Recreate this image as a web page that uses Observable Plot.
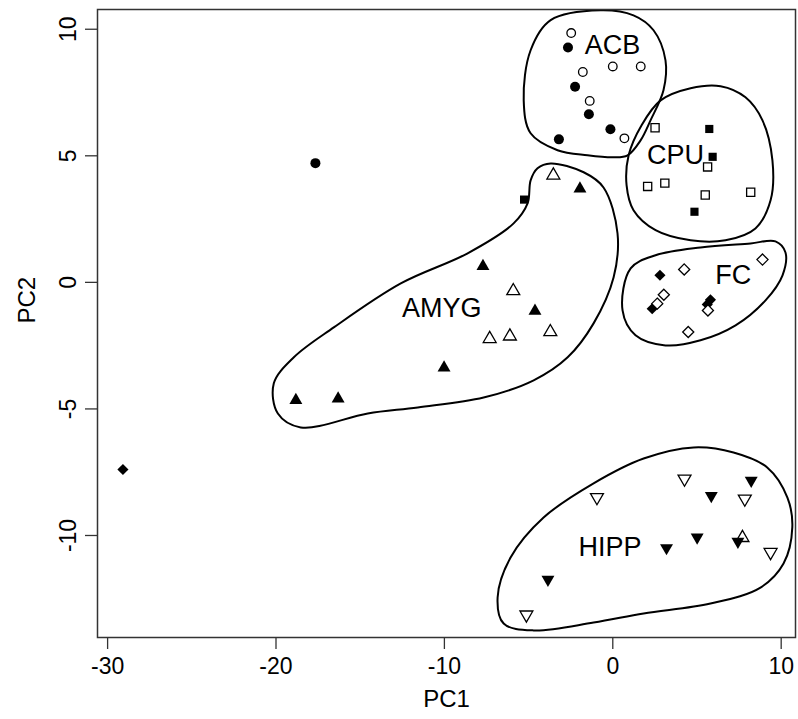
<!DOCTYPE html>
<html>
<head>
<meta charset="utf-8">
<script src="https://cdn.jsdelivr.net/npm/d3@7"></script>
<script src="https://cdn.jsdelivr.net/npm/@observablehq/plot@0.6"></script>
<style>
  html, body { margin: 0; padding: 0; background: white; }
  svg { display: block; }
</style>
</head>
<body>
<div id="chart"></div>
<script>
// ---- tick values ----
const xTicks = [-30, -20, -10, 0, 10];
const yTicks = [-10, -5, 0, 5, 10];

// ---- points: [PC1, PC2] ----
const acbFilled = [[-2.66, 9.28], [-2.24, 7.73], [-1.42, 6.64], [-0.14, 6.05], [-3.2, 5.65], [-17.66, 4.71]];
const acbOpen = [[-2.47, 9.85], [-1.78, 8.31], [0.0, 8.53], [1.66, 8.53], [-1.37, 7.17], [0.69, 5.69]];

const cpuFilled = [[5.73, 6.06], [5.93, 4.96], [4.85, 2.79], [-5.27, 3.27]];
const cpuOpen = [[2.51, 6.11], [5.63, 4.56], [2.07, 3.79], [3.09, 3.92], [5.49, 3.45], [8.19, 3.56]];

const amygFilled = [[-1.95, 3.70], [-7.71, 0.64], [-4.62, -1.13], [-10.02, -3.37], [-18.82, -4.66], [-16.31, -4.6]];
const amygOpen = [[-3.53, 4.23], [-5.91, -0.34], [-7.31, -2.23], [-6.11, -2.13], [-3.71, -1.96], [7.70, -10.09]];

const fcFilled = [[2.80, 0.28], [2.34, -1.04], [5.80, -0.69], [5.61, -0.87], [-29.09, -7.39]];
const fcOpen = [[4.24, 0.51], [8.89, 0.90], [3.03, -0.49], [2.64, -0.84], [5.65, -1.11], [4.48, -1.96]];

const hippFilled = [[8.22, -7.83], [5.85, -8.43], [5.01, -10.07], [3.19, -10.49], [7.43, -10.24], [-3.85, -11.74]];
const hippOpen = [[4.26, -7.76], [7.84, -8.55], [-0.94, -8.49], [9.37, -10.66], [-5.13, -13.13]];

// ---- cluster outlines (hand drawn contours) ----
const acbOutline = [[-0.72, 10.75], [-3.69, 10.36], [-4.88, 9.17], [-5.29, 7.19], [-4.88, 5.89], [-3.28, 5.22], [-1.50, 5.02], [0.05, 4.94], [0.88, 5.02], [1.65, 5.61], [2.24, 6.40], [3.01, 7.59], [3.13, 8.77], [2.42, 9.96], [1.23, 10.55]];
const cpuOutline = [[1.71, 6.21], [2.84, 7.19], [4.62, 7.67], [6.40, 7.75], [7.88, 7.31], [8.89, 6.40], [9.48, 4.82], [9.37, 3.24], [8.47, 2.13], [6.69, 1.66], [4.62, 1.66], [2.54, 2.06], [1.23, 2.85], [0.82, 3.83], [0.94, 5.02]];
const fcOutline = [[1.06, 0.55], [2.54, 1.07], [5.21, 1.38], [8.18, 1.54], [9.66, 1.62], [10.25, 1.19], [10.08, 0.28], [9.07, -0.71], [7.29, -1.70], [5.21, -2.29], [3.13, -2.49], [1.35, -2.09], [0.58, -1.11]];
const amygOutline = [[-3.69, 4.70], [-1.73, 4.35], [-0.55, 3.75], [0.28, 1.94], [0.05, 0.20], [-1.14, -1.62], [-2.68, -2.96], [-4.70, -3.87], [-7.67, -4.55], [-11.58, -4.94], [-14.55, -5.18], [-18.53, -5.73], [-19.89, -5.18], [-20.13, -3.99], [-18.94, -2.96], [-16.57, -1.78], [-12.59, -0.04], [-8.62, 1.15], [-5.89, 2.33], [-5.06, 3.12], [-4.88, 4.03], [-4.47, 4.51]];
const hippOutline = [[4.80, -6.52], [7.17, -6.72], [9.17, -7.31], [10.37, -8.50], [10.66, -9.68], [10.14, -11.11], [8.77, -12.06], [5.80, -12.69], [1.83, -13.08], [-1.14, -13.44], [-4.70, -13.75], [-6.48, -13.48], [-6.84, -12.45], [-6.07, -10.87], [-4.11, -9.29], [-1.14, -7.94], [1.83, -6.96]];

// ---- cluster labels ----
const clusterNames = ["ACB", "CPU", "FC", "AMYG", "HIPP"];
const clusterLabelPos = [[-0.01, 9.37], [3.73, 5.02], [7.15, 0.28], [-10.16, -1.04], [-0.17, -10.46]];

// inverted triangle symbol
const sqrt3 = Math.sqrt(3);
const triangleDown = {
  draw(context, size) {
    const y = -Math.sqrt(size / (sqrt3 * 3));
    context.moveTo(0, -y * 2);
    context.lineTo(-sqrt3 * y, y);
    context.lineTo(sqrt3 * y, y);
    context.closePath();
  }
};

const labels = clusterNames.map((name, i) => ({name, x: clusterLabelPos[i][0], y: clusterLabelPos[i][1]}));
const X = d => d[0], Y = d => d[1];
const hyphenFormat = d => String(d);

function filledDots(data, symbol, r) {
  return Plot.dot(data, {x: X, y: Y, symbol, r, fill: "black", stroke: "none"});
}
function openDots(data, symbol, r) {
  return Plot.dot(data, {x: X, y: Y, symbol, r, fill: "white", stroke: "black", strokeWidth: 1.3});
}
function outline(data) {
  return Plot.line(data, {x: X, y: Y, curve: "catmull-rom-closed", stroke: "black", strokeWidth: 2});
}

const chart = Plot.plot({
  width: 798,
  height: 719,
  marginLeft: 97,
  marginRight: 3,
  marginTop: 9,
  marginBottom: 82,
  x: {domain: [-30.6, 10.85]},
  y: {domain: [-14.03, 10.78]},
  style: {fontFamily: "'Liberation Sans', Arial, Helvetica, sans-serif", background: "white", color: "black"},
  marks: [
    outline(acbOutline),
    outline(cpuOutline),
    outline(fcOutline),
    outline(amygOutline),
    outline(hippOutline),
    Plot.text(labels, {x: "x", y: "y", text: "name", fontSize: 27, fill: "black", textAnchor: "middle", lineAnchor: "middle"}),
    filledDots(acbFilled, "circle", 5),
    openDots(acbOpen, "circle", 4.3),
    filledDots(cpuFilled, "square", 4.6),
    openDots(cpuOpen, "square", 4.6),
    filledDots(amygFilled, "triangle", 4.8),
    openDots(amygOpen, "triangle", 4.8),
    filledDots(fcFilled, "diamond2", 5),
    openDots(fcOpen, "diamond2", 5),
    filledDots(hippFilled, triangleDown, 4.8),
    openDots(hippOpen, triangleDown, 4.8),
    Plot.frame({stroke: "#333", strokeWidth: 1.5}),
    Plot.axisX({ticks: xTicks, tickFormat: hyphenFormat, tickSize: 12, tickPadding: 8, fontSize: 23, stroke: "#333", strokeWidth: 1.3, label: null}),
    Plot.axisY({ticks: yTicks, tickFormat: hyphenFormat, tickSize: 12, tickPadding: 10, fontSize: 23, stroke: "#333", strokeWidth: 1.3, tickRotate: -90, textAnchor: "middle", lineAnchor: "bottom", label: null}),
    Plot.text(["PC1"], {frameAnchor: "bottom", dy: 62, text: d => d, fontSize: 24, fill: "black", lineAnchor: "middle"}),
    Plot.text(["PC2"], {frameAnchor: "left", dx: -70, text: d => d, fontSize: 24, fill: "black", rotate: -90, lineAnchor: "middle"})
  ]
});
document.getElementById("chart").appendChild(chart);
</script>
</body>
</html>
